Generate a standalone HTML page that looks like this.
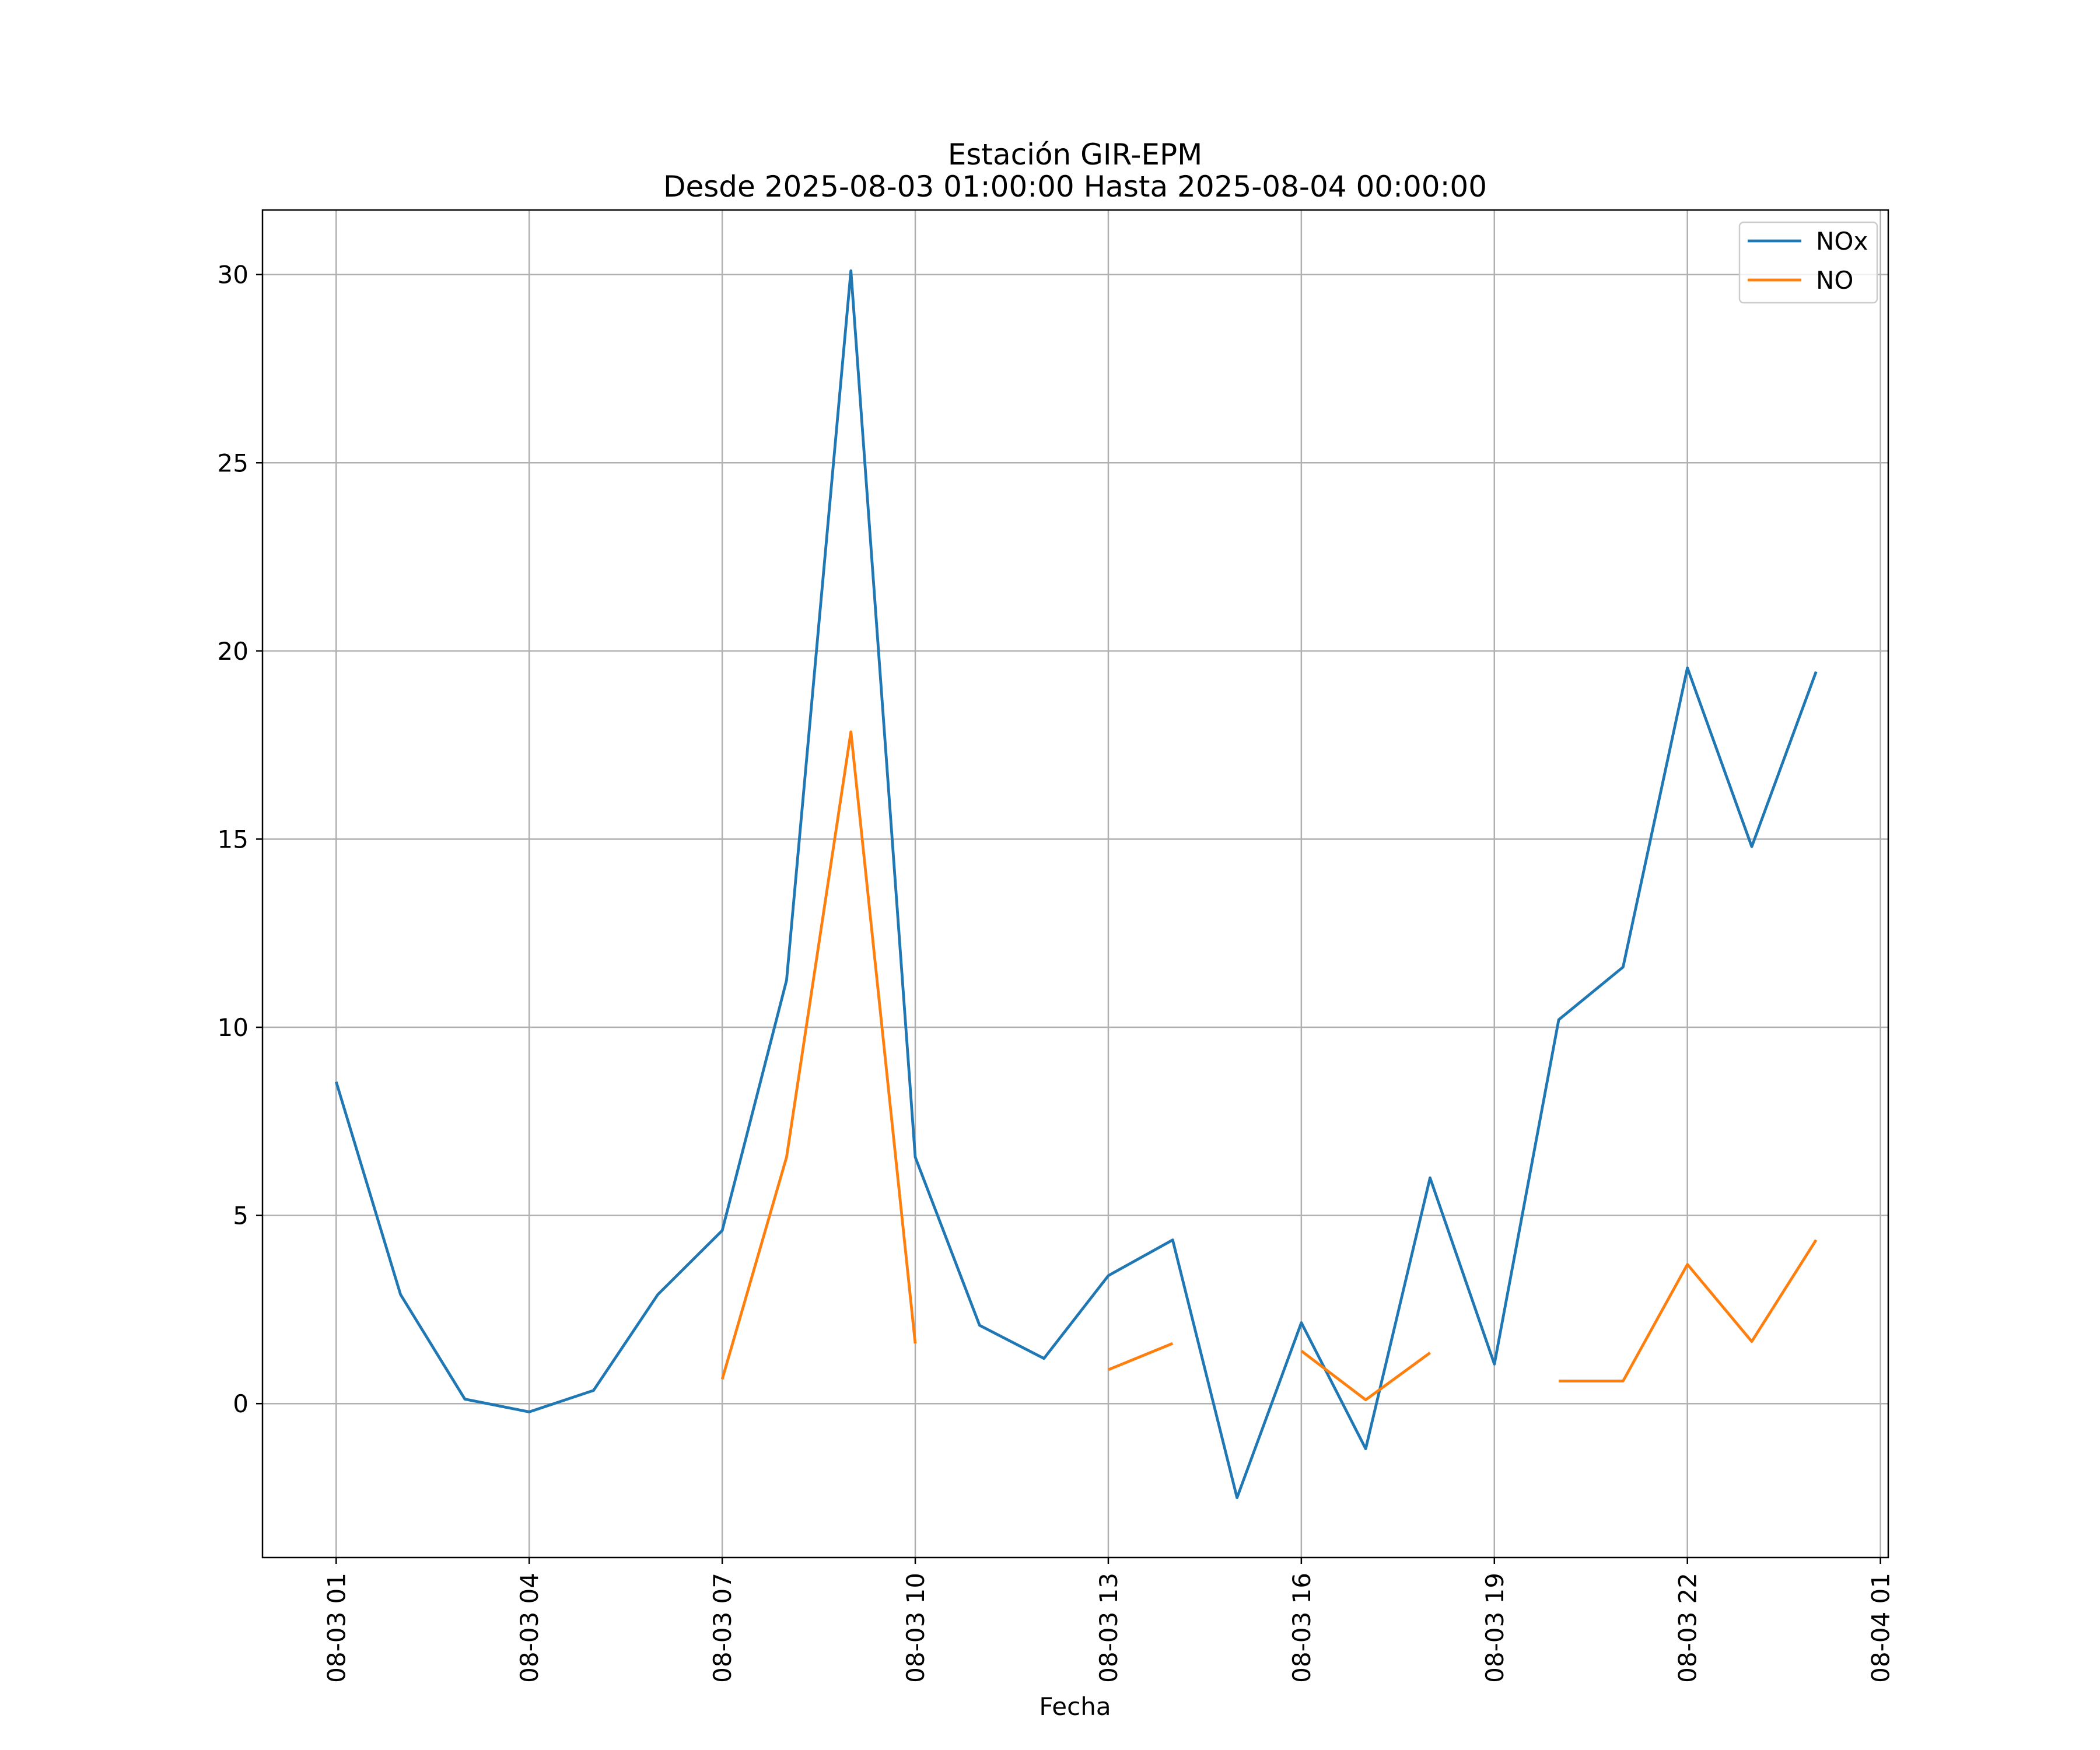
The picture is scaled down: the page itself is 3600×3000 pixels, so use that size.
<!DOCTYPE html>
<html><head><meta charset="utf-8"><style>body{margin:0;background:#fff}svg{display:block}text{font-family:"DejaVu Sans","Liberation Sans",sans-serif;fill:#000}</style></head>
<body>
<svg id="chart" width="3600" height="3000" viewBox="0 0 3600 3000" xmlns="http://www.w3.org/2000/svg"></svg>
<script>
const hours = [1,2,3,4,5,6,7,8,9,10,11,12,13,14,15,16,17,18,19,20,21,22,23,24];
const noxValues = [8.55,2.9,0.12,-0.22,0.35,2.9,4.6,11.25,30.1,6.55,2.08,1.2,3.4,4.35,-2.5,2.15,-1.2,6.0,1.05,10.2,11.6,19.55,14.8,19.45];
const noValues = [null,null,null,null,null,null,0.65,6.55,17.85,1.6,null,null,0.9,1.6,null,1.4,0.1,1.35,null,0.6,0.6,3.7,1.65,4.35];
const yTicks = [0,5,10,15,20,25,30];
const xTickHours = [1,4,7,10,13,16,19,22,25];
const xTickLabels = ["08-03 01","08-03 04","08-03 07","08-03 10","08-03 13","08-03 16","08-03 19","08-03 22","08-04 01"];

const L=450,R=3237,T=360,B=2670;
const xs=h=>576.3+(h-1)*(3223.6-576.3)/24;
const ys=v=>2406.2+v*(470.7-2406.2)/30;
const svg=document.getElementById('chart');
const NS='http://www.w3.org/2000/svg';
function mk(tag,attrs,parent){const e=document.createElementNS(NS,tag);for(const k in attrs)e.setAttribute(k,attrs[k]);(parent||svg).appendChild(e);return e;}

const grid=mk('g',{});


xTickHours.forEach((h,i)=>{
  const x=xs(h);
  if(x<R){const g=mk('line',{x1:x,x2:x,y1:T,y2:B,stroke:'#b0b0b0','stroke-width':2.5},grid);
  
  }
  const t=mk('line',{x1:x,x2:x,y1:B,y2:B+11,stroke:'#000','stroke-width':2.5});
  
  
  const lb=mk('text',{x:0,y:0,'font-size':42,'text-anchor':'end',transform:`translate(${x+15},${B+26}) rotate(-90)`});
  lb.textContent=xTickLabels[i];
  
  
});
yTicks.forEach(v=>{
  const y=ys(v);
  const g=mk('line',{x1:L,x2:R,y1:y,y2:y,stroke:'#b0b0b0','stroke-width':2.5},grid);
  
  
  const t=mk('line',{x1:L-11,x2:L,y1:y,y2:y,stroke:'#000','stroke-width':2.5});
  
  
  const lb=mk('text',{x:L-24,y:y+15,'font-size':42,'text-anchor':'end'});
  lb.textContent=v;
  
  
});
function series(vals,color,name){
  let d='',pen=false;
  vals.forEach((v,i)=>{
    if(v===null){pen=false;return;}
    d+=(pen?'L':'M')+xs(hours[i]).toFixed(1)+' '+ys(v).toFixed(1)+' ';pen=true;
  });
  const p=mk('path',{d:d,fill:'none',stroke:color,'stroke-width':4.8,'stroke-linejoin':'round'});
  
  
}
series(noxValues,'#1f77b4','nox-line');
series(noValues,'#ff7f0e','no-line');
const fr=mk('rect',{x:L,y:T,width:R-L,height:B-T,fill:'none',stroke:'#000','stroke-width':2.5});


const t1=mk('text',{x:1843,y:282,'font-size':50,'text-anchor':'middle'});t1.textContent='Estación GIR-EPM';


const t2=mk('text',{x:1843,y:337,'font-size':50,'text-anchor':'middle'});t2.textContent='Desde 2025-08-03 01:00:00 Hasta 2025-08-04 00:00:00';


const xt=mk('text',{x:1843,y:2940,'font-size':42,'text-anchor':'middle'});xt.textContent='Fecha';


const lg=mk('g',{});


mk('rect',{x:2982,y:381,width:236,height:138,rx:7,fill:'#fff','fill-opacity':0.8,stroke:'#ccc','stroke-width':2.5},lg);
[['NOx','#1f77b4',413],['NO','#ff7f0e',480]].forEach(([n,c,y])=>{
  const e=mk('g',{},lg);
  
  
  mk('line',{x1:2996,x2:3088,y1:y,y2:y,stroke:c,'stroke-width':4.8},e);
  const tx=mk('text',{x:3113,y:y+15,'font-size':42},e);tx.textContent=n;
});
</script>
</body></html>
